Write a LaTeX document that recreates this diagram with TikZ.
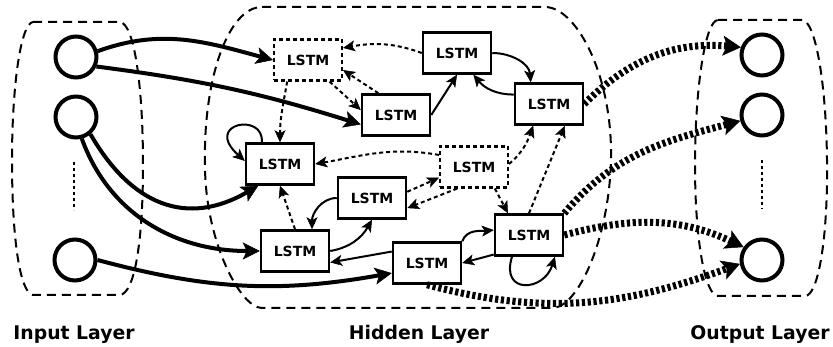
\documentclass[tikz,border=0pt]{standalone}
\usepackage{fontspec}
\setmainfont{DejaVu Sans}
\usetikzlibrary{arrows.meta}
\begin{document}
\begin{tikzpicture}[x=1pt,y=1pt,
  lstm/.style={draw, line width=2.5pt, minimum width=68pt, minimum height=41pt, inner sep=0pt,
    font=\fontsize{14}{16}\selectfont\bfseries},
  lstmd/.style={lstm, line width=2.1pt, dash pattern=on 4pt off 3pt},
  unit/.style={circle, draw, line width=4pt, minimum size=41pt, inner sep=0pt},
  layer/.style={line width=2pt, dash pattern=on 9pt off 6pt},
  lab/.style={font=\fontsize{18.8}{20}\selectfont\bfseries, anchor=base, inner sep=0pt},
  vdots/.style={line width=2.8pt, dash pattern=on 3pt off 3pt},
  bigarrow/.style={line width=4pt, -{Stealth[length=17pt,width=17pt,inset=4pt,line width=0.5pt]}},
  fatarrow/.style={line width=7pt, dash pattern=on 3.2pt off 2.6pt, -{Stealth[length=18pt,width=20pt,inset=4pt,line width=0.5pt]}},
  sarrow/.style={line width=2pt, -{Stealth[length=12pt,width=11pt,inset=3pt,line width=0.5pt]}},
  darrow/.style={sarrow, dash pattern=on 4pt off 3pt}
]
\useasboundingbox (0,0) rectangle (833,-347);

% layer containers
\draw[layer] (33,-22) -- (120,-22) .. controls (135,-24) and (143,-90) .. (143,-165)
  .. controls (143,-240) and (135,-293) .. (120,-295) -- (33,-295)
  .. controls (20,-293) and (12,-240) .. (12,-160)
  .. controls (12,-90) and (20,-24) .. (33,-22) -- cycle;
\draw[layer] (262,-7) -- (545,-7) .. controls (575,-7) and (610,-70) .. (611,-150)
  .. controls (612,-230) and (580,-308) .. (552,-308) -- (262,-308)
  .. controls (240,-308) and (205,-240) .. (205,-165)
  .. controls (203,-80) and (228,-7) .. (262,-7) -- cycle;
\draw[layer] (718,-20) -- (802,-20) .. controls (815,-20) and (826,-80) .. (827,-160)
  .. controls (828,-240) and (818,-296) .. (805,-296) -- (718,-296)
  .. controls (705,-296) and (695,-240) .. (695,-165)
  .. controls (695,-90) and (705,-20) .. (718,-20) -- cycle;

% units
\node[unit] (i1) at (76,-57) {};
\node[unit] (i2) at (76,-117) {};
\node[unit] (i3) at (75,-260) {};
\node[unit] (o1) at (762,-55) {};
\node[unit] (o2) at (762,-115) {};
\node[unit] (o3) at (762,-260) {};
\draw[vdots] (74,-162) -- (74,-210);
\draw[vdots] (762,-160) -- (762,-209);

% LSTM cells
\node[lstmd] (A) at (308,-60) {LSTM};
\node[lstm]  (B) at (396,-115) {LSTM};
\node[lstm]  (C) at (457,-53) {LSTM};
\node[lstm]  (D) at (549,-104) {LSTM};
\node[lstm]  (E) at (280,-164) {LSTM};
\node[lstmd] (F) at (474,-167) {LSTM};
\node[lstm]  (G) at (372,-198) {LSTM};
\node[lstm]  (H) at (295,-251) {LSTM};
\node[lstm]  (I) at (529,-235) {LSTM};
\node[lstm]  (J) at (427,-263) {LSTM};

% labels
\node[lab] (linput) at (74,-340) {Input Layer};
\node[lab] (lhidden) at (419,-340) {Hidden Layer};
\node[lab] (loutput) at (760,-340) {Output Layer};

% input -> hidden
\draw[bigarrow] (i1.15) to[out=20,in=165] (A.west);
\draw[bigarrow] (i1.-25) to[bend left=5] (B.195);
\draw[bigarrow] (i2.-50) to[out=-60,in=210,looseness=1.2] (E.225);
\draw[bigarrow] (i2.-75) to[out=-70,in=180] (H.west);
\draw[bigarrow] (i3.east) to[out=-15,in=190] (J.196);

% hidden -> output
\draw[fatarrow] (D.east) to[out=45,in=175] (o1.160);
\draw[fatarrow] (I.north east) to[out=50,in=195] (o2.195);
\draw[fatarrow] (I.east) to[out=15,in=155] (o3.145);
\draw[fatarrow] (J.south) to[out=-15,in=200] (o3.190);

% hidden recurrent connections
\draw[sarrow] (B.east) -- (C.south);
\draw[sarrow] (C.east) to[out=0,in=95] (D.130);
\draw[sarrow] (D.165) to[out=180,in=-50] (C.307);
\draw[darrow] (C.west) to[out=160,in=10] (A.19);
\draw[darrow] (B.129) -- (A.344);
\draw[darrow] (A.315) -- (B.172);
\draw[darrow] (A.226) to[out=-100,in=90] (E.north);
\draw[sarrow] (E.130) .. controls +(3,30) and +(-42,38) .. (E.175);
\draw[darrow] (F.161) to[out=170,in=10] (E.east);
\draw[darrow] (G.10) -- (F.197);
\draw[darrow] (F.232) -- (G.344);
\draw[darrow] (F.5) to[out=40,in=-110] (D.234);
\draw[darrow] (I.north) -- (D.306);
\draw[darrow] (F.314) -- (I.134);
\draw[darrow] (H.north) -- (E.south);
\draw[sarrow] (G.west) to[out=180,in=90] (H.52);
\draw[sarrow] (H.east) to[out=10,in=-120] (G.south);
\draw[sarrow] (J.162) -- (H.342);
\draw[sarrow] (J.north east) to[out=70,in=185] (I.172);
\draw[sarrow] (I.209) -- (J.east);
\draw[sarrow] (I.232) .. controls +(-12,-38) and +(-11,-35) .. (I.320);
\end{tikzpicture}
\end{document}
